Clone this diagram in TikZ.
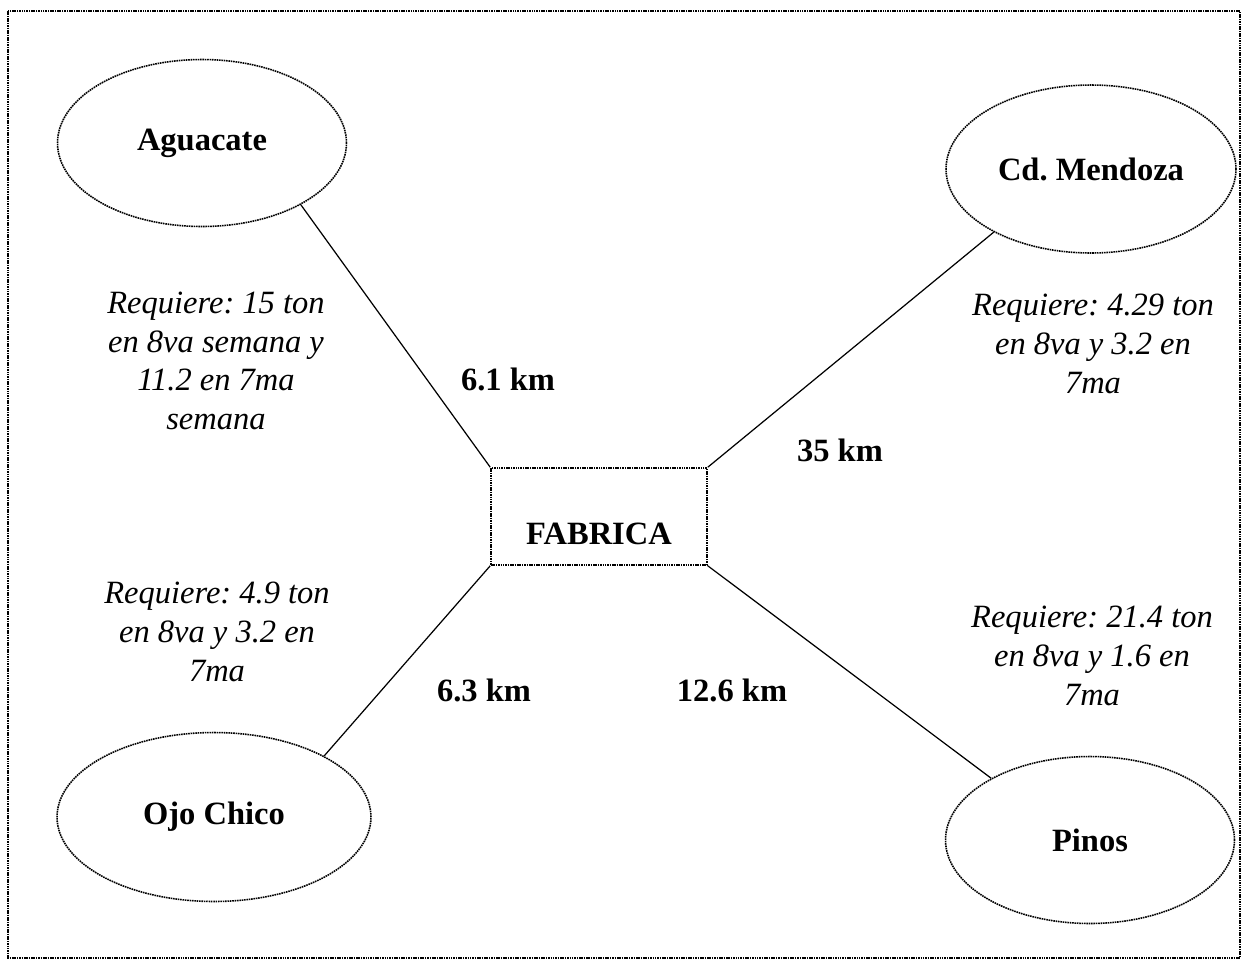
\documentclass[tikz,border=0pt]{standalone}
\usepackage{fontspec}
\setmainfont{Liberation Serif}
\usepackage{tikz}
\usetikzlibrary{shapes.geometric}
\frenchspacing

\begin{document}
\begin{tikzpicture}[x=0.02cm, y=-0.02cm,
    dotline/.style={line width=0.9pt, dash pattern=on 0.9pt off 0.45pt},
    town/.style={draw, dotline, ellipse, inner sep=0pt, font=\fontsize{18.5}{22}\selectfont\bfseries},
    dist/.style={font=\fontsize{18.5}{22}\selectfont\bfseries},
    need/.style={font=\fontsize{18.5}{22}\selectfont\itshape, align=center},
    link/.style={line width=0.7pt}]
    \useasboundingbox (0,0) rectangle (1248,968);
    % Frame
    \draw[dotline] (8,11) rectangle (1240,958);

    % Factory
    \node[draw, dotline, rectangle, minimum width=4.32cm, minimum height=1.94cm, inner sep=0pt,
          text height=32pt, text depth=0pt, font=\fontsize{18.5}{22}\selectfont\bfseries] (fab) at (599,516.5) {FABRICA};

    % Towns
    \node[town, minimum width=5.78cm, minimum height=3.34cm] (agua) at (202,143) {Aguacate};
    \node[town, minimum width=5.80cm, minimum height=3.36cm] (mend) at (1091,169) {Cd. Mendoza};
    \node[town, minimum width=6.28cm, minimum height=3.38cm] (ojo) at (214,817) {Ojo Chico};
    \node[town, minimum width=5.78cm, minimum height=3.34cm] (pinos) at (1090,840) {Pinos};

    % Roads
    \draw[link] (fab.north west) -- (agua.-32);
    \draw[link] (fab.north east) -- (mend.-147);
    \draw[link] (fab.south west) -- (ojo.29);
    \draw[link] (fab.south east) -- (pinos.148);

    % Distances
    \node[dist] (d1) at (508,379) {6.1 km};
    \node[dist] (d2) at (840,450) {35 km};
    \node[dist] (d3) at (484,690) {6.3 km};
    \node[dist] (d4) at (732,690) {12.6 km};

    % Demands
    \node[need] (r1) at (216,361) {Requiere: 15 ton\\en 8va semana y\\11.2 en 7ma\\semana};
    \node[need] (r2) at (1093,344) {Requiere: 4.29 ton\\en 8va y 3.2 en\\7ma};
    \node[need] (r3) at (217,632) {Requiere: 4.9 ton\\en 8va y 3.2 en\\7ma};
    \node[need] (r4) at (1092,656) {Requiere: 21.4 ton\\en 8va y 1.6 en\\7ma};
\end{tikzpicture}
\end{document}
